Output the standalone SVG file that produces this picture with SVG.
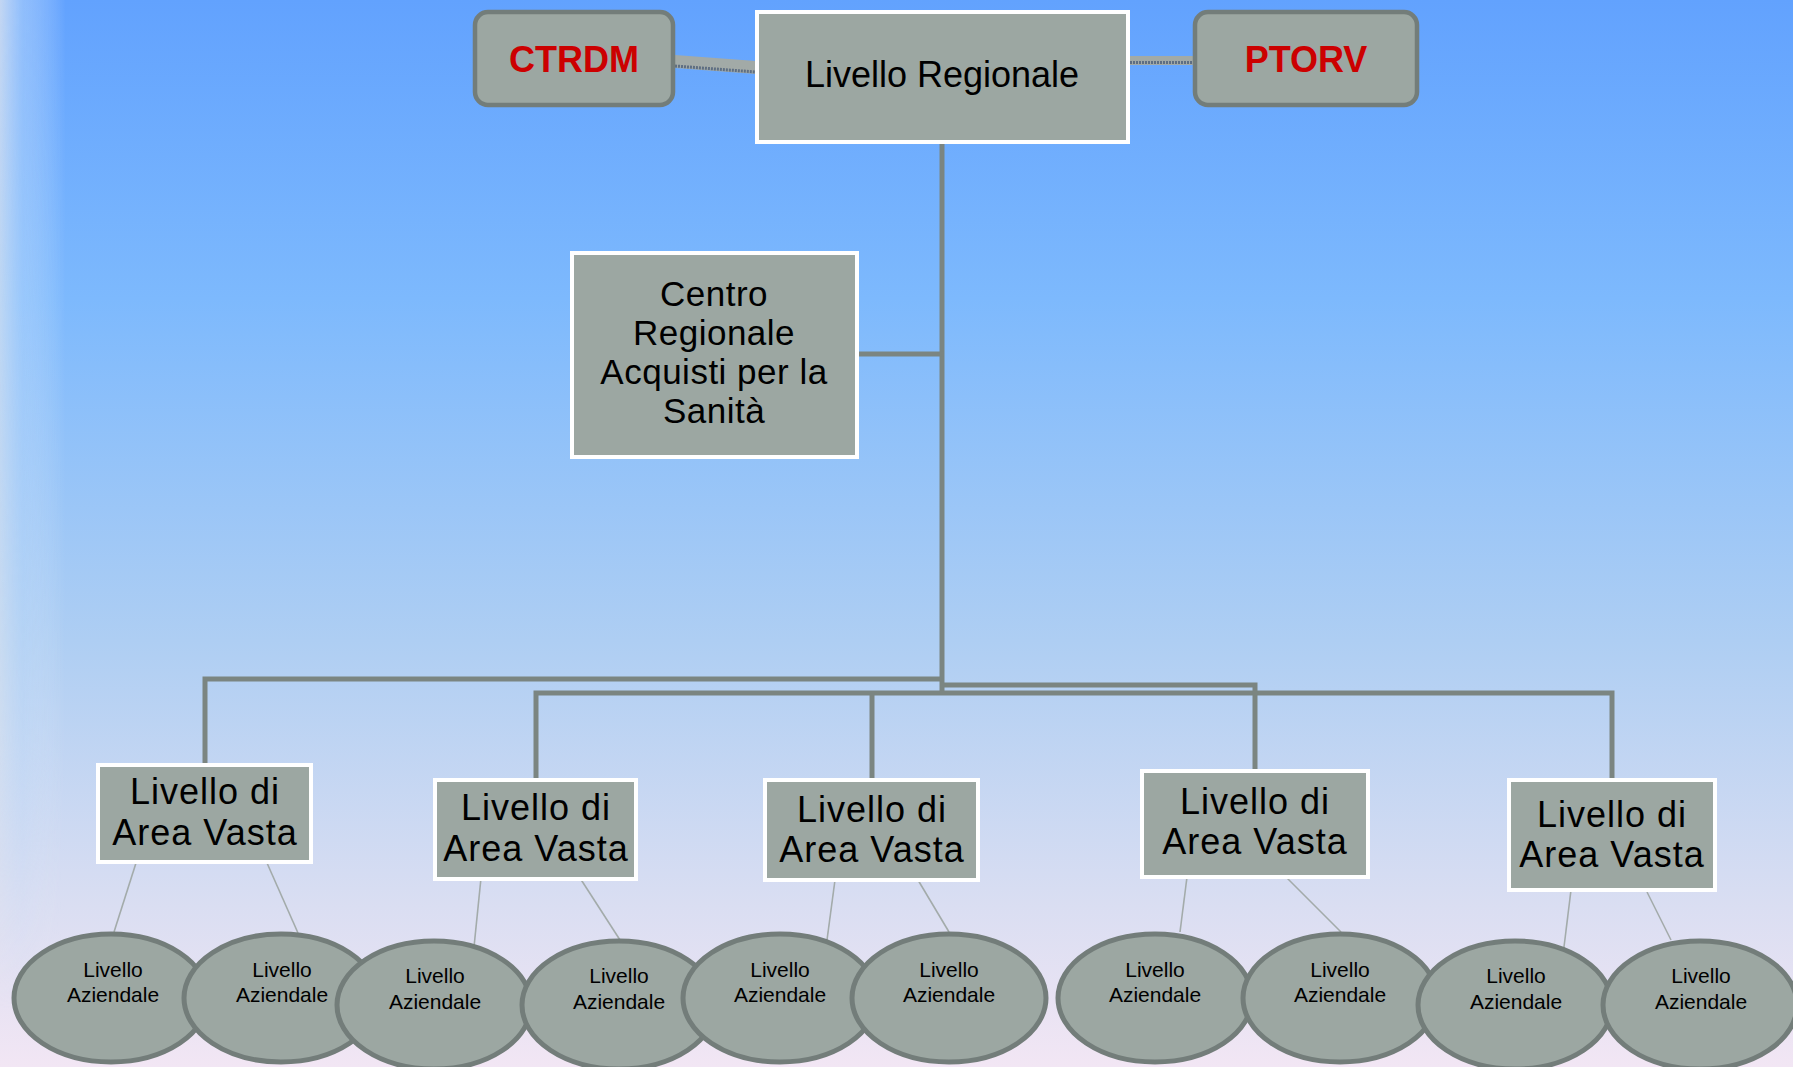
<svg xmlns="http://www.w3.org/2000/svg" width="1793" height="1067" viewBox="0 0 1793 1067">
<defs>
<linearGradient id="bg" x1="0" y1="0" x2="0" y2="1">
<stop offset="0" stop-color="#62A2FE"/>
<stop offset="0.28" stop-color="#7DB9FD"/>
<stop offset="0.6" stop-color="#AECEF3"/>
<stop offset="0.85" stop-color="#DADEF2"/>
<stop offset="1" stop-color="#F2E6F4"/>
</linearGradient>
<linearGradient id="strip" x1="0" y1="0" x2="1" y2="0">
<stop offset="0" stop-color="#E4E8EE" stop-opacity="0.75"/>
<stop offset="0.35" stop-color="#C8E0FA" stop-opacity="0.45"/>
<stop offset="1" stop-color="#FFFFFF" stop-opacity="0"/>
</linearGradient>
<linearGradient id="fade" x1="0" y1="0" x2="0" y2="1">
<stop offset="0" stop-color="#fff"/>
<stop offset="0.7" stop-color="#fff" stop-opacity="0.6"/>
<stop offset="0.95" stop-color="#fff" stop-opacity="0"/>
</linearGradient>
<mask id="m"><rect x="0" y="0" width="70" height="1067" fill="url(#fade)"/></mask>
<style>
.conn{fill:none;stroke:#7B8581;stroke-width:5}
.thin{fill:none;stroke:#A3ABAA;stroke-width:1.6}
.box{fill:#9CA7A2;stroke:#FFFFFF;stroke-width:4}
.rbox{fill:#9CA7A2;stroke:#737D7A;stroke-width:4.5}
.ell{fill:#9CA7A2;stroke:#737D7A;stroke-width:5}
.t{font-family:"Liberation Sans",Arial,sans-serif;fill:#000;text-anchor:middle}
.big{font-size:36px;letter-spacing:1px}
.red{font-family:"Liberation Sans",Arial,sans-serif;font-weight:bold;font-size:36px;fill:#CC0000;text-anchor:middle}
.sm{font-size:21px}
.ctr{font-size:35px;letter-spacing:0.5px}
</style>
</defs>
<rect x="0" y="0" width="1793" height="1067" fill="url(#bg)"/>
<rect x="0" y="0" width="66" height="1067" fill="url(#strip)" mask="url(#m)"/>

<g id="connectors">
<polygon points="675,55 756,61 756,74 675,68" fill="#A2AAA7"/>
<line x1="675" y1="66" x2="756" y2="72" stroke="#5E6E82" stroke-width="3" stroke-dasharray="2 1"/>
<rect x="1130" y="56" width="63" height="9" fill="#A2AAA7"/>
<line x1="1130" y1="62.5" x2="1193" y2="62.5" stroke="#5E6E82" stroke-width="3" stroke-dasharray="2 1"/>
<line class="conn" x1="942" y1="144" x2="942" y2="695"/>
<line class="conn" x1="858" y1="354" x2="944" y2="354"/>
<polyline class="conn" points="942,679 205,679 205,763"/>
<polyline class="conn" points="536,778 536,693 1612,693 1612,778"/>
<line class="conn" x1="872" y1="693" x2="872" y2="778"/>
<polyline class="conn" points="942,685 1255,685 1255,769"/>
<line class="thin" x1="136" y1="863" x2="114" y2="932"/>
<line class="thin" x1="267" y1="863" x2="298" y2="933"/>
<line class="thin" x1="481" y1="878" x2="474" y2="947"/>
<line class="thin" x1="580" y1="878" x2="620" y2="940"/>
<line class="thin" x1="835" y1="880" x2="827" y2="940"/>
<line class="thin" x1="918" y1="880" x2="949" y2="932"/>
<line class="thin" x1="1187" y1="877" x2="1180" y2="932"/>
<line class="thin" x1="1286" y1="877" x2="1341" y2="932"/>
<line class="thin" x1="1571" y1="890" x2="1563" y2="955"/>
<line class="thin" x1="1647" y1="892" x2="1671" y2="940"/>
</g>

<g id="ctrdm"><rect class="rbox" x="475" y="12" width="198" height="93" rx="13"/><text class="red" x="574" y="72">CTRDM</text></g>
<g id="ptorv"><rect class="rbox" x="1195" y="12" width="222" height="93" rx="13"/><text class="red" x="1306" y="72">PTORV</text></g>
<g id="livello-regionale"><rect class="box" x="757" y="12" width="371" height="130"/><text class="t" x="942" y="87" font-size="36">Livello Regionale</text></g>
<g id="centro"><rect class="box" x="572" y="253" width="285" height="204"/>
<text class="t ctr" x="714" y="306">Centro</text>
<text class="t ctr" x="714" y="345">Regionale</text>
<text class="t ctr" x="714" y="384">Acquisti per la</text>
<text class="t ctr" x="714" y="423">Sanità</text></g>

<g id="av1"><rect class="box" x="98" y="765" width="213" height="97"/><text class="t big" x="205" y="804">Livello di</text><text class="t big" x="205" y="845">Area Vasta</text></g>
<g id="av2"><rect class="box" x="435" y="780" width="201" height="99"/><text class="t big" x="536" y="820">Livello di</text><text class="t big" x="536" y="861">Area Vasta</text></g>
<g id="av3"><rect class="box" x="765" y="780" width="213" height="100"/><text class="t big" x="872" y="822">Livello di</text><text class="t big" x="872" y="862">Area Vasta</text></g>
<g id="av4"><rect class="box" x="1142" y="771" width="226" height="106"/><text class="t big" x="1255" y="814">Livello di</text><text class="t big" x="1255" y="854">Area Vasta</text></g>
<g id="av5"><rect class="box" x="1509" y="780" width="206" height="110"/><text class="t big" x="1612" y="827">Livello di</text><text class="t big" x="1612" y="867">Area Vasta</text></g>

<g id="az1"><ellipse class="ell" cx="111" cy="998" rx="97" ry="64"/><text class="t sm" x="113" y="977">Livello</text><text class="t sm" x="113" y="1002">Aziendale</text></g>
<g id="az2"><ellipse class="ell" cx="281" cy="998" rx="97" ry="64"/><text class="t sm" x="282" y="977">Livello</text><text class="t sm" x="282" y="1002">Aziendale</text></g>
<g id="az3"><ellipse class="ell" cx="434" cy="1005" rx="97" ry="64"/><text class="t sm" x="435" y="983">Livello</text><text class="t sm" x="435" y="1009">Aziendale</text></g>
<g id="az4"><ellipse class="ell" cx="619" cy="1005" rx="97" ry="64"/><text class="t sm" x="619" y="983">Livello</text><text class="t sm" x="619" y="1009">Aziendale</text></g>
<g id="az5"><ellipse class="ell" cx="780" cy="998" rx="97" ry="64"/><text class="t sm" x="780" y="977">Livello</text><text class="t sm" x="780" y="1002">Aziendale</text></g>
<g id="az6"><ellipse class="ell" cx="949" cy="998" rx="97" ry="64"/><text class="t sm" x="949" y="977">Livello</text><text class="t sm" x="949" y="1002">Aziendale</text></g>
<g id="az7"><ellipse class="ell" cx="1155" cy="998" rx="97" ry="64"/><text class="t sm" x="1155" y="977">Livello</text><text class="t sm" x="1155" y="1002">Aziendale</text></g>
<g id="az8"><ellipse class="ell" cx="1340" cy="998" rx="97" ry="64"/><text class="t sm" x="1340" y="977">Livello</text><text class="t sm" x="1340" y="1002">Aziendale</text></g>
<g id="az9"><ellipse class="ell" cx="1515" cy="1005" rx="97" ry="64"/><text class="t sm" x="1516" y="983">Livello</text><text class="t sm" x="1516" y="1009">Aziendale</text></g>
<g id="az10"><ellipse class="ell" cx="1700" cy="1005" rx="97" ry="64"/><text class="t sm" x="1701" y="983">Livello</text><text class="t sm" x="1701" y="1009">Aziendale</text></g>
</svg>
